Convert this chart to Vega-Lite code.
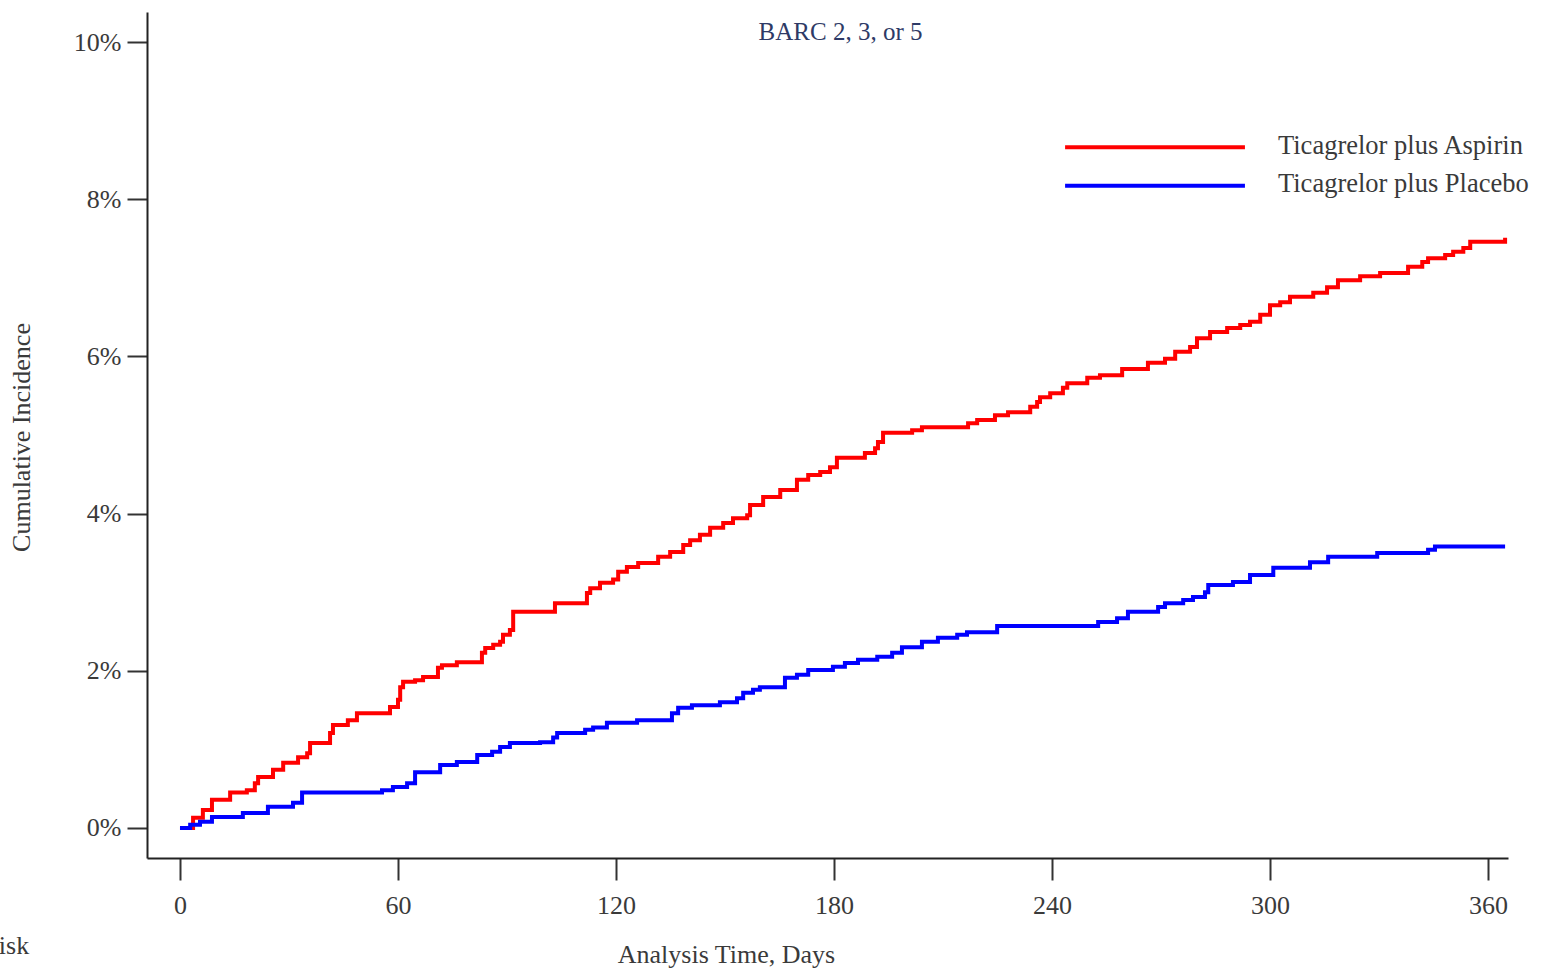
{
  "$schema": "https://vega.github.io/schema/vega-lite/v6.json",
  "autosize": "none",
  "width": 1361,
  "height": 846,
  "padding": {"left": 147, "top": 12, "right": 41, "bottom": 111},
  "background": "white",
  "config": {
    "view": {"stroke": null},
    "font": "Liberation Serif",
    "axis": {"grid": false, "labelFont": "Liberation Serif", "titleFont": "Liberation Serif", "labelColor": "#3a3a3a", "titleColor": "#3a3a3a", "domainColor": "#222222", "tickColor": "#333333", "domainWidth": 2, "tickWidth": 2, "labelFontSize": 26, "titleFontSize": 26, "titleFontWeight": "normal"}
  },
  "title": {
    "text": "BARC 2, 3, or 5",
    "frame": "group",
    "anchor": "middle",
    "offset": -28,
    "dy": 25,
    "baseline": "alphabetic",
    "dx": 13,
    "font": "Liberation Serif",
    "fontSize": 25,
    "fontWeight": "normal",
    "color": "#2e3a66"
  },
  "datasets": {
    "curves": [
      {"day": 0, "pct": 0, "group": "Ticagrelor plus Aspirin"},
      {"day": 3.6, "pct": 0.13, "group": "Ticagrelor plus Aspirin"},
      {"day": 6.3, "pct": 0.23, "group": "Ticagrelor plus Aspirin"},
      {"day": 8.8, "pct": 0.36, "group": "Ticagrelor plus Aspirin"},
      {"day": 13.8, "pct": 0.45, "group": "Ticagrelor plus Aspirin"},
      {"day": 18.4, "pct": 0.48, "group": "Ticagrelor plus Aspirin"},
      {"day": 20.6, "pct": 0.57, "group": "Ticagrelor plus Aspirin"},
      {"day": 21.5, "pct": 0.65, "group": "Ticagrelor plus Aspirin"},
      {"day": 25.6, "pct": 0.74, "group": "Ticagrelor plus Aspirin"},
      {"day": 28.4, "pct": 0.83, "group": "Ticagrelor plus Aspirin"},
      {"day": 32.5, "pct": 0.9, "group": "Ticagrelor plus Aspirin"},
      {"day": 35.0, "pct": 0.95, "group": "Ticagrelor plus Aspirin"},
      {"day": 35.8, "pct": 1.08, "group": "Ticagrelor plus Aspirin"},
      {"day": 41.3, "pct": 1.21, "group": "Ticagrelor plus Aspirin"},
      {"day": 42.1, "pct": 1.31, "group": "Ticagrelor plus Aspirin"},
      {"day": 46.2, "pct": 1.37, "group": "Ticagrelor plus Aspirin"},
      {"day": 48.7, "pct": 1.46, "group": "Ticagrelor plus Aspirin"},
      {"day": 57.8, "pct": 1.54, "group": "Ticagrelor plus Aspirin"},
      {"day": 60.0, "pct": 1.63, "group": "Ticagrelor plus Aspirin"},
      {"day": 60.6, "pct": 1.79, "group": "Ticagrelor plus Aspirin"},
      {"day": 61.4, "pct": 1.86, "group": "Ticagrelor plus Aspirin"},
      {"day": 64.7, "pct": 1.88, "group": "Ticagrelor plus Aspirin"},
      {"day": 66.9, "pct": 1.92, "group": "Ticagrelor plus Aspirin"},
      {"day": 71.0, "pct": 2.04, "group": "Ticagrelor plus Aspirin"},
      {"day": 72.1, "pct": 2.07, "group": "Ticagrelor plus Aspirin"},
      {"day": 76.2, "pct": 2.11, "group": "Ticagrelor plus Aspirin"},
      {"day": 83.1, "pct": 2.23, "group": "Ticagrelor plus Aspirin"},
      {"day": 84.0, "pct": 2.29, "group": "Ticagrelor plus Aspirin"},
      {"day": 86.2, "pct": 2.33, "group": "Ticagrelor plus Aspirin"},
      {"day": 88.1, "pct": 2.37, "group": "Ticagrelor plus Aspirin"},
      {"day": 88.9, "pct": 2.46, "group": "Ticagrelor plus Aspirin"},
      {"day": 90.8, "pct": 2.52, "group": "Ticagrelor plus Aspirin"},
      {"day": 91.7, "pct": 2.75, "group": "Ticagrelor plus Aspirin"},
      {"day": 103.2, "pct": 2.86, "group": "Ticagrelor plus Aspirin"},
      {"day": 112.0, "pct": 2.99, "group": "Ticagrelor plus Aspirin"},
      {"day": 112.9, "pct": 3.05, "group": "Ticagrelor plus Aspirin"},
      {"day": 115.6, "pct": 3.12, "group": "Ticagrelor plus Aspirin"},
      {"day": 119.2, "pct": 3.16, "group": "Ticagrelor plus Aspirin"},
      {"day": 120.6, "pct": 3.26, "group": "Ticagrelor plus Aspirin"},
      {"day": 123.0, "pct": 3.32, "group": "Ticagrelor plus Aspirin"},
      {"day": 126.1, "pct": 3.37, "group": "Ticagrelor plus Aspirin"},
      {"day": 131.6, "pct": 3.45, "group": "Ticagrelor plus Aspirin"},
      {"day": 134.9, "pct": 3.51, "group": "Ticagrelor plus Aspirin"},
      {"day": 138.5, "pct": 3.6, "group": "Ticagrelor plus Aspirin"},
      {"day": 140.4, "pct": 3.66, "group": "Ticagrelor plus Aspirin"},
      {"day": 143.1, "pct": 3.73, "group": "Ticagrelor plus Aspirin"},
      {"day": 145.9, "pct": 3.82, "group": "Ticagrelor plus Aspirin"},
      {"day": 149.5, "pct": 3.88, "group": "Ticagrelor plus Aspirin"},
      {"day": 152.2, "pct": 3.94, "group": "Ticagrelor plus Aspirin"},
      {"day": 156.1, "pct": 3.98, "group": "Ticagrelor plus Aspirin"},
      {"day": 156.9, "pct": 4.11, "group": "Ticagrelor plus Aspirin"},
      {"day": 160.5, "pct": 4.21, "group": "Ticagrelor plus Aspirin"},
      {"day": 165.2, "pct": 4.3, "group": "Ticagrelor plus Aspirin"},
      {"day": 169.8, "pct": 4.43, "group": "Ticagrelor plus Aspirin"},
      {"day": 172.9, "pct": 4.49, "group": "Ticagrelor plus Aspirin"},
      {"day": 176.2, "pct": 4.53, "group": "Ticagrelor plus Aspirin"},
      {"day": 178.9, "pct": 4.59, "group": "Ticagrelor plus Aspirin"},
      {"day": 180.8, "pct": 4.71, "group": "Ticagrelor plus Aspirin"},
      {"day": 188.5, "pct": 4.77, "group": "Ticagrelor plus Aspirin"},
      {"day": 191.3, "pct": 4.83, "group": "Ticagrelor plus Aspirin"},
      {"day": 192.1, "pct": 4.91, "group": "Ticagrelor plus Aspirin"},
      {"day": 193.5, "pct": 5.03, "group": "Ticagrelor plus Aspirin"},
      {"day": 201.5, "pct": 5.06, "group": "Ticagrelor plus Aspirin"},
      {"day": 204.2, "pct": 5.1, "group": "Ticagrelor plus Aspirin"},
      {"day": 216.9, "pct": 5.15, "group": "Ticagrelor plus Aspirin"},
      {"day": 219.4, "pct": 5.19, "group": "Ticagrelor plus Aspirin"},
      {"day": 224.3, "pct": 5.25, "group": "Ticagrelor plus Aspirin"},
      {"day": 227.9, "pct": 5.29, "group": "Ticagrelor plus Aspirin"},
      {"day": 234.0, "pct": 5.36, "group": "Ticagrelor plus Aspirin"},
      {"day": 235.9, "pct": 5.42, "group": "Ticagrelor plus Aspirin"},
      {"day": 236.7, "pct": 5.48, "group": "Ticagrelor plus Aspirin"},
      {"day": 239.5, "pct": 5.53, "group": "Ticagrelor plus Aspirin"},
      {"day": 243.0, "pct": 5.6, "group": "Ticagrelor plus Aspirin"},
      {"day": 244.2, "pct": 5.66, "group": "Ticagrelor plus Aspirin"},
      {"day": 249.7, "pct": 5.73, "group": "Ticagrelor plus Aspirin"},
      {"day": 253.2, "pct": 5.76, "group": "Ticagrelor plus Aspirin"},
      {"day": 259.3, "pct": 5.84, "group": "Ticagrelor plus Aspirin"},
      {"day": 266.4, "pct": 5.92, "group": "Ticagrelor plus Aspirin"},
      {"day": 271.1, "pct": 5.97, "group": "Ticagrelor plus Aspirin"},
      {"day": 273.9, "pct": 6.06, "group": "Ticagrelor plus Aspirin"},
      {"day": 278.0, "pct": 6.12, "group": "Ticagrelor plus Aspirin"},
      {"day": 279.9, "pct": 6.23, "group": "Ticagrelor plus Aspirin"},
      {"day": 283.5, "pct": 6.31, "group": "Ticagrelor plus Aspirin"},
      {"day": 288.2, "pct": 6.36, "group": "Ticagrelor plus Aspirin"},
      {"day": 291.8, "pct": 6.4, "group": "Ticagrelor plus Aspirin"},
      {"day": 294.5, "pct": 6.44, "group": "Ticagrelor plus Aspirin"},
      {"day": 297.3, "pct": 6.53, "group": "Ticagrelor plus Aspirin"},
      {"day": 300.0, "pct": 6.65, "group": "Ticagrelor plus Aspirin"},
      {"day": 302.8, "pct": 6.69, "group": "Ticagrelor plus Aspirin"},
      {"day": 305.5, "pct": 6.76, "group": "Ticagrelor plus Aspirin"},
      {"day": 311.9, "pct": 6.81, "group": "Ticagrelor plus Aspirin"},
      {"day": 315.7, "pct": 6.88, "group": "Ticagrelor plus Aspirin"},
      {"day": 318.7, "pct": 6.97, "group": "Ticagrelor plus Aspirin"},
      {"day": 324.8, "pct": 7.02, "group": "Ticagrelor plus Aspirin"},
      {"day": 330.3, "pct": 7.06, "group": "Ticagrelor plus Aspirin"},
      {"day": 338.0, "pct": 7.14, "group": "Ticagrelor plus Aspirin"},
      {"day": 341.9, "pct": 7.2, "group": "Ticagrelor plus Aspirin"},
      {"day": 343.5, "pct": 7.25, "group": "Ticagrelor plus Aspirin"},
      {"day": 348.2, "pct": 7.29, "group": "Ticagrelor plus Aspirin"},
      {"day": 350.4, "pct": 7.33, "group": "Ticagrelor plus Aspirin"},
      {"day": 353.2, "pct": 7.38, "group": "Ticagrelor plus Aspirin"},
      {"day": 355.1, "pct": 7.46, "group": "Ticagrelor plus Aspirin"},
      {"day": 364.7, "pct": 7.51, "group": "Ticagrelor plus Aspirin"},
      {"day": 0, "pct": 0, "group": "Ticagrelor plus Placebo"},
      {"day": 2.8, "pct": 0.04, "group": "Ticagrelor plus Placebo"},
      {"day": 5.5, "pct": 0.08, "group": "Ticagrelor plus Placebo"},
      {"day": 8.8, "pct": 0.14, "group": "Ticagrelor plus Placebo"},
      {"day": 17.3, "pct": 0.19, "group": "Ticagrelor plus Placebo"},
      {"day": 24.2, "pct": 0.27, "group": "Ticagrelor plus Placebo"},
      {"day": 31.1, "pct": 0.32, "group": "Ticagrelor plus Placebo"},
      {"day": 33.6, "pct": 0.45, "group": "Ticagrelor plus Placebo"},
      {"day": 55.6, "pct": 0.48, "group": "Ticagrelor plus Placebo"},
      {"day": 58.6, "pct": 0.52, "group": "Ticagrelor plus Placebo"},
      {"day": 62.5, "pct": 0.57, "group": "Ticagrelor plus Placebo"},
      {"day": 64.7, "pct": 0.71, "group": "Ticagrelor plus Placebo"},
      {"day": 71.6, "pct": 0.8, "group": "Ticagrelor plus Placebo"},
      {"day": 76.2, "pct": 0.84, "group": "Ticagrelor plus Placebo"},
      {"day": 81.8, "pct": 0.93, "group": "Ticagrelor plus Placebo"},
      {"day": 85.9, "pct": 0.97, "group": "Ticagrelor plus Placebo"},
      {"day": 88.1, "pct": 1.03, "group": "Ticagrelor plus Placebo"},
      {"day": 90.8, "pct": 1.08, "group": "Ticagrelor plus Placebo"},
      {"day": 99.1, "pct": 1.09, "group": "Ticagrelor plus Placebo"},
      {"day": 102.7, "pct": 1.15, "group": "Ticagrelor plus Placebo"},
      {"day": 103.8, "pct": 1.21, "group": "Ticagrelor plus Placebo"},
      {"day": 111.5, "pct": 1.25, "group": "Ticagrelor plus Placebo"},
      {"day": 113.7, "pct": 1.28, "group": "Ticagrelor plus Placebo"},
      {"day": 117.5, "pct": 1.34, "group": "Ticagrelor plus Placebo"},
      {"day": 125.8, "pct": 1.37, "group": "Ticagrelor plus Placebo"},
      {"day": 135.4, "pct": 1.46, "group": "Ticagrelor plus Placebo"},
      {"day": 137.1, "pct": 1.53, "group": "Ticagrelor plus Placebo"},
      {"day": 140.9, "pct": 1.56, "group": "Ticagrelor plus Placebo"},
      {"day": 148.6, "pct": 1.6, "group": "Ticagrelor plus Placebo"},
      {"day": 153.3, "pct": 1.65, "group": "Ticagrelor plus Placebo"},
      {"day": 155.0, "pct": 1.72, "group": "Ticagrelor plus Placebo"},
      {"day": 157.7, "pct": 1.76, "group": "Ticagrelor plus Placebo"},
      {"day": 159.6, "pct": 1.79, "group": "Ticagrelor plus Placebo"},
      {"day": 166.5, "pct": 1.91, "group": "Ticagrelor plus Placebo"},
      {"day": 169.8, "pct": 1.95, "group": "Ticagrelor plus Placebo"},
      {"day": 172.9, "pct": 2.01, "group": "Ticagrelor plus Placebo"},
      {"day": 179.7, "pct": 2.05, "group": "Ticagrelor plus Placebo"},
      {"day": 183.0, "pct": 2.1, "group": "Ticagrelor plus Placebo"},
      {"day": 186.6, "pct": 2.14, "group": "Ticagrelor plus Placebo"},
      {"day": 191.9, "pct": 2.18, "group": "Ticagrelor plus Placebo"},
      {"day": 196.0, "pct": 2.23, "group": "Ticagrelor plus Placebo"},
      {"day": 198.7, "pct": 2.3, "group": "Ticagrelor plus Placebo"},
      {"day": 204.2, "pct": 2.37, "group": "Ticagrelor plus Placebo"},
      {"day": 208.6, "pct": 2.42, "group": "Ticagrelor plus Placebo"},
      {"day": 213.9, "pct": 2.46, "group": "Ticagrelor plus Placebo"},
      {"day": 216.6, "pct": 2.49, "group": "Ticagrelor plus Placebo"},
      {"day": 224.9, "pct": 2.57, "group": "Ticagrelor plus Placebo"},
      {"day": 252.7, "pct": 2.62, "group": "Ticagrelor plus Placebo"},
      {"day": 257.9, "pct": 2.67, "group": "Ticagrelor plus Placebo"},
      {"day": 260.9, "pct": 2.75, "group": "Ticagrelor plus Placebo"},
      {"day": 269.2, "pct": 2.81, "group": "Ticagrelor plus Placebo"},
      {"day": 271.1, "pct": 2.86, "group": "Ticagrelor plus Placebo"},
      {"day": 276.1, "pct": 2.9, "group": "Ticagrelor plus Placebo"},
      {"day": 278.8, "pct": 2.94, "group": "Ticagrelor plus Placebo"},
      {"day": 282.1, "pct": 3.0, "group": "Ticagrelor plus Placebo"},
      {"day": 283.0, "pct": 3.09, "group": "Ticagrelor plus Placebo"},
      {"day": 289.8, "pct": 3.13, "group": "Ticagrelor plus Placebo"},
      {"day": 294.5, "pct": 3.22, "group": "Ticagrelor plus Placebo"},
      {"day": 300.9, "pct": 3.31, "group": "Ticagrelor plus Placebo"},
      {"day": 311.0, "pct": 3.38, "group": "Ticagrelor plus Placebo"},
      {"day": 316.0, "pct": 3.45, "group": "Ticagrelor plus Placebo"},
      {"day": 329.5, "pct": 3.5, "group": "Ticagrelor plus Placebo"},
      {"day": 343.5, "pct": 3.54, "group": "Ticagrelor plus Placebo"},
      {"day": 345.4, "pct": 3.58, "group": "Ticagrelor plus Placebo"},
      {"day": 364.7, "pct": 3.58, "group": "Ticagrelor plus Placebo"}
    ],
    "one": [{}]
  },
  "layer": [
    {
      "data": {"name": "curves"},
      "mark": {"type": "line", "interpolate": "step-after", "strokeWidth": 4, "clip": false},
      "encoding": {
        "x": {
          "field": "day", "type": "quantitative",
          "scale": {"domain": [-9.08, 365.5], "nice": false, "zero": false},
          "axis": {
            "values": [0, 60, 120, 180, 240, 300, 360],
            "tickSize": 22,
            "labelPadding": 12,
            "title": "Analysis Time, Days",
            "titleX": 579,
            "titleY": 104,
            "titleBaseline": "alphabetic",
            "titleAlign": "center"
          }
        },
        "y": {
          "field": "pct", "type": "quantitative",
          "scale": {"domain": [-0.382, 10.382], "nice": false, "zero": false},
          "axis": {
            "values": [0, 2, 4, 6, 8, 10],
            "labelExpr": "datum.value + '%'",
            "tickSize": 20,
            "labelPadding": 6,
            "title": "Cumulative Incidence",
            "titleX": -113,
            "titleY": 425,
            "titleAngle": -90,
            "titleBaseline": "bottom",
            "titleAlign": "center"
          }
        },
        "color": {
          "field": "group", "type": "nominal",
          "scale": {"domain": ["Ticagrelor plus Aspirin", "Ticagrelor plus Placebo"], "range": ["#ff0000", "#0000ff"]},
          "legend": null
        },
        "detail": {"field": "group"}
      }
    },
    {
      "data": {"name": "one"},
      "mark": {"type": "rule", "color": "#ff0000", "strokeWidth": 4},
      "encoding": {"x": {"datum": 243.6}, "x2": {"datum": 293.1}, "y": {"datum": 8.66}}
    },
    {
      "data": {"name": "one"},
      "mark": {"type": "rule", "color": "#0000ff", "strokeWidth": 4},
      "encoding": {"x": {"datum": 243.6}, "x2": {"datum": 293.1}, "y": {"datum": 8.17}}
    },
    {
      "data": {"name": "one"},
      "mark": {"type": "text", "align": "left", "baseline": "middle", "font": "Liberation Serif", "fontSize": 26.5, "color": "#3a3a3a"},
      "encoding": {"x": {"datum": 302.2}, "y": {"datum": 8.68}, "text": {"value": "Ticagrelor plus Aspirin"}}
    },
    {
      "data": {"name": "one"},
      "mark": {"type": "text", "align": "left", "baseline": "middle", "font": "Liberation Serif", "fontSize": 26.5, "color": "#3a3a3a"},
      "encoding": {"x": {"datum": 302.2}, "y": {"datum": 8.19}, "text": {"value": "Ticagrelor plus Placebo"}}
    },
    {
      "data": {"name": "one"},
      "mark": {"type": "text", "align": "right", "baseline": "alphabetic", "font": "Liberation Serif", "fontSize": 26, "color": "#3a3a3a", "clip": false},
      "encoding": {"x": {"datum": -41.5}, "y": {"datum": -1.6}, "text": {"value": "Number at Risk"}}
    }
  ]
}
